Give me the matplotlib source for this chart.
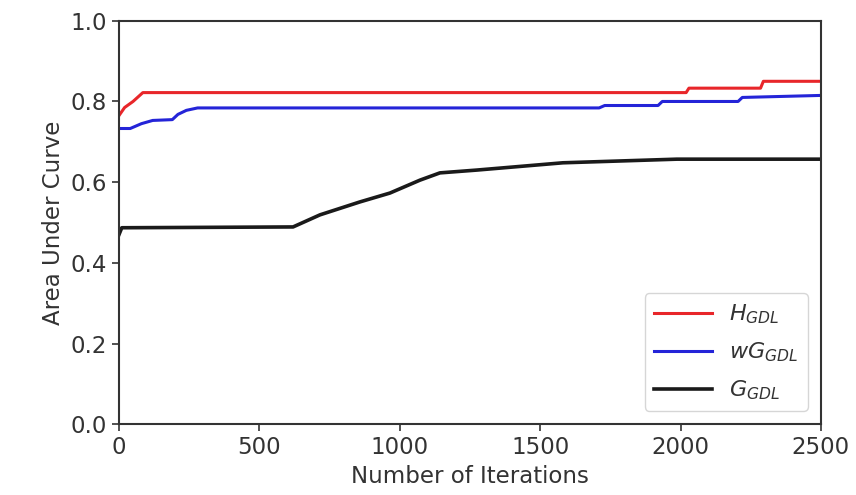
import matplotlib.pyplot as plt

# AUC per iteration for the three learners
h_iters = [0, 20, 50, 85, 2020, 2030, 2285, 2295, 2500]
h_auc = [0.765, 0.785, 0.80, 0.822, 0.822, 0.833, 0.833, 0.85, 0.85]

wg_iters = [0, 40, 80, 120, 190, 210, 240, 280, 1710, 1730, 1920, 1935, 2205, 2220, 2500]
wg_auc = [0.733, 0.733, 0.745, 0.753, 0.755, 0.768, 0.778, 0.784, 0.784, 0.79, 0.79, 0.80, 0.80, 0.81, 0.815]

g_iters = [0, 10, 620, 716, 858, 965, 1072, 1143, 1275, 1581, 1987, 2500]
g_auc = [0.47, 0.487, 0.489, 0.519, 0.551, 0.573, 0.605, 0.623, 0.630, 0.648, 0.657, 0.657]

labels = [r"$H_{GDL}$", r"$wG_{GDL}$", r"$G_{GDL}$"]

plt.rcParams["font.size"] = 16.5

fig = plt.figure(figsize=(8.56, 4.95), dpi=100)
ax = fig.add_axes([0.139, 0.143, 0.82, 0.815])

ax.plot(h_iters, h_auc, color="#e8262a", lw=2.2, label=labels[0])
ax.plot(wg_iters, wg_auc, color="#2424d8", lw=2.2, label=labels[1])
ax.plot(g_iters, g_auc, color="#1a1a1a", lw=2.6, label=labels[2])

ax.set_xlim(0, 2500)
ax.set_ylim(0, 1.0)
ax.set_xticks([0, 500, 1000, 1500, 2000, 2500])
ax.set_yticks([0.0, 0.2, 0.4, 0.6, 0.8, 1.0])
ax.tick_params(length=5, width=1.2, colors="#333333", labelcolor="#333333")
for sp in ax.spines.values():
    sp.set_linewidth(1.5)
    sp.set_color("#333333")

ax.set_xlabel("Number of Iterations", color="#333333")
ax.set_ylabel("Area Under Curve", color="#333333")

leg = ax.legend(loc="lower right", handlelength=2.6, fontsize=16,
                labelspacing=0.65, borderaxespad=0.6)
for t in leg.get_texts():
    t.set_color("#333333")

plt.savefig("out.png", dpi=100)
